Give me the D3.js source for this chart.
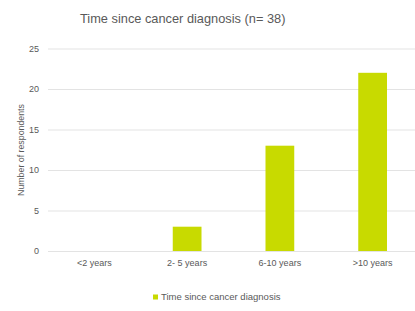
<!DOCTYPE html>
<html><head><meta charset="utf-8">
<script src="https://cdn.jsdelivr.net/npm/d3@7"></script>
<style>body{margin:0;background:#fff;}svg{display:block;}text{font-family:"Liberation Sans",Arial,sans-serif;}</style>
</head><body>
<script>
const categories = ["<2 years", "2- 5 years", "6-10 years", ">10 years"];
const values = [0, 3, 13, 22];
const yTicks = [0, 5, 10, 15, 20, 25];
const seriesName = "Time since cancer diagnosis";
const title = "Time since cancer diagnosis (n= 38)";
const yTitle = "Number of respondents";

const W = 415, H = 311;
const svg = d3.select("body").append("svg").attr("width", W).attr("height", H);
const x = d3.scaleBand().domain(categories).range([48, 419]).paddingInner(0.69).paddingOuter(0.345);
const y = d3.scaleLinear().domain([0, 25]).range([251, 48.5]);

svg.append("text").attr("x", 80).attr("y", 23).attr("font-size", 12.8).attr("fill", "#595959").text(title);

const yAxis = svg.append("g").attr("transform", "translate(48,0)")
  .call(d3.axisLeft(y).tickValues(yTicks).tickSize(-(W - 48)).tickPadding(9));
yAxis.select(".domain").remove();
yAxis.selectAll(".tick line").attr("stroke", "#e3e3e3");
yAxis.selectAll(".tick text").attr("font-size", 9).attr("fill", "#595959").attr("font-family", "Liberation Sans, Arial, sans-serif");

svg.append("text").attr("transform", "translate(24,150) rotate(-90)").attr("text-anchor", "middle")
  .attr("font-size", 8.8).attr("fill", "#595959").text(yTitle);

svg.selectAll("rect.bar").data(values).enter().append("rect").attr("class", "bar")
  .attr("x", (d, i) => x(categories[i])).attr("width", x.bandwidth())
  .attr("y", d => y(d)).attr("height", d => y(0) - y(d)).attr("fill", "#c8da00");

const xAxis = svg.append("g").attr("transform", "translate(0,251)")
  .call(d3.axisBottom(x).tickSize(0).tickPadding(9));
xAxis.select(".domain").remove();
xAxis.selectAll(".tick text").attr("font-size", 9).attr("fill", "#595959").attr("font-family", "Liberation Sans, Arial, sans-serif");

const lg = svg.append("g").attr("transform", "translate(153,298)");
lg.append("rect").attr("x", 0).attr("y", -3.5).attr("width", 5).attr("height", 5).attr("fill", "#c8da00");
lg.append("text").attr("x", 8).attr("y", 1.8).attr("font-size", 9.5).attr("fill", "#595959").text(seriesName);
</script>
</body></html>
